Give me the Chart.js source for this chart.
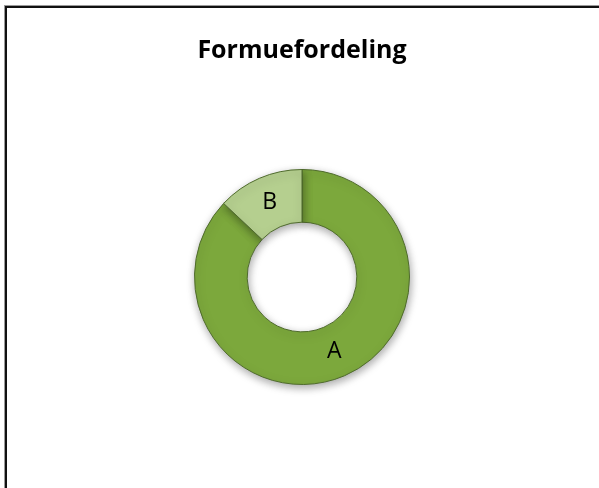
<!DOCTYPE html>
<html>
<head>
<meta charset="utf-8">
<script src="https://cdn.jsdelivr.net/npm/chart.js@4.4.0/dist/chart.umd.min.js"></script>
<style>
  html, body { margin: 0; padding: 0; background: #fff; overflow: hidden; }
  #wrap { position: relative; width: 599px; height: 488px; }
  #frame {
    position: absolute; left: 5px; top: 6px; right: -10px; bottom: -10px;
    border-left: 2px solid #111; border-top: 2px solid #111;
    box-shadow: -1px -1px 0 #9a9a9a;
  }
  canvas { position: absolute; left: 0; top: 0; }
</style>
</head>
<body>
<div id="wrap">
  <div id="frame"></div>
  <canvas id="formueChart" width="599" height="488"></canvas>
</div>
<script>
// Fordeling av formue
const labels = ['A', 'B'];
const values = [87, 13];
const sliceColors = ['#7ca83c', '#b5cf8f'];
const edgeColors = ['#5a7f26', '#8ca866'];

// Ring shading: darker at the inner and outer edge, lighter in the middle
function ringFill(ctx, i) {
  const chart = ctx.chart;
  const meta = chart.getDatasetMeta(0);
  const arc = meta.data[ctx.dataIndex];
  if (!arc || !arc.outerRadius) return sliceColors[i];
  const g = chart.ctx.createRadialGradient(arc.x, arc.y, arc.innerRadius, arc.x, arc.y, arc.outerRadius);
  g.addColorStop(0, edgeColors[i]);
  g.addColorStop(0.1, sliceColors[i]);
  g.addColorStop(0.85, sliceColors[i]);
  g.addColorStop(1, edgeColors[i]);
  return g;
}

// Slice names drawn in the middle of each arc
const sliceLabels = {
  id: 'sliceLabels',
  afterDatasetsDraw(chart) {
    const ctx = chart.ctx;
    ctx.save();
    ctx.font = '23px "Open Sans", sans-serif';
    ctx.fillStyle = '#000';
    ctx.textAlign = 'center';
    ctx.textBaseline = 'middle';
    chart.getDatasetMeta(0).data.forEach((arc, i) => {
      const p = arc.tooltipPosition();
      ctx.fillText(chart.data.labels[i], p.x, p.y);
    });
    ctx.restore();
  }
};

// Soft shadow under the ring
const ringShadow = {
  id: 'ringShadow',
  beforeDatasetsDraw(chart) {
    const ctx = chart.ctx;
    ctx.save();
    ctx.shadowColor = 'rgba(0,0,0,0.35)';
    ctx.shadowBlur = 8;
    ctx.shadowOffsetX = 1;
    ctx.shadowOffsetY = 3;
  },
  afterDatasetsDraw(chart) {
    chart.ctx.restore();
  }
};

new Chart(document.getElementById('formueChart').getContext('2d'), {
  type: 'doughnut',
  data: {
    labels: labels,
    datasets: [{
      data: values,
      backgroundColor: (ctx) => ringFill(ctx, ctx.dataIndex),
      borderColor: '#4f6b2c',
      borderWidth: 1
    }]
  },
  options: {
    responsive: false,
    animation: false,
    cutout: '51%',
    layout: { padding: { left: 5, right: 0, top: 0, bottom: 103 } },
    plugins: {
      legend: { display: false },
      tooltip: { enabled: false },
      title: {
        display: true,
        text: 'Formuefordeling',
        color: '#000',
        font: { family: '"Open Sans", sans-serif', size: 25, weight: 'bold' },
        padding: { top: 36, bottom: 103 }
      }
    }
  },
  plugins: [ringShadow, sliceLabels]
});
</script>
</body>
</html>
